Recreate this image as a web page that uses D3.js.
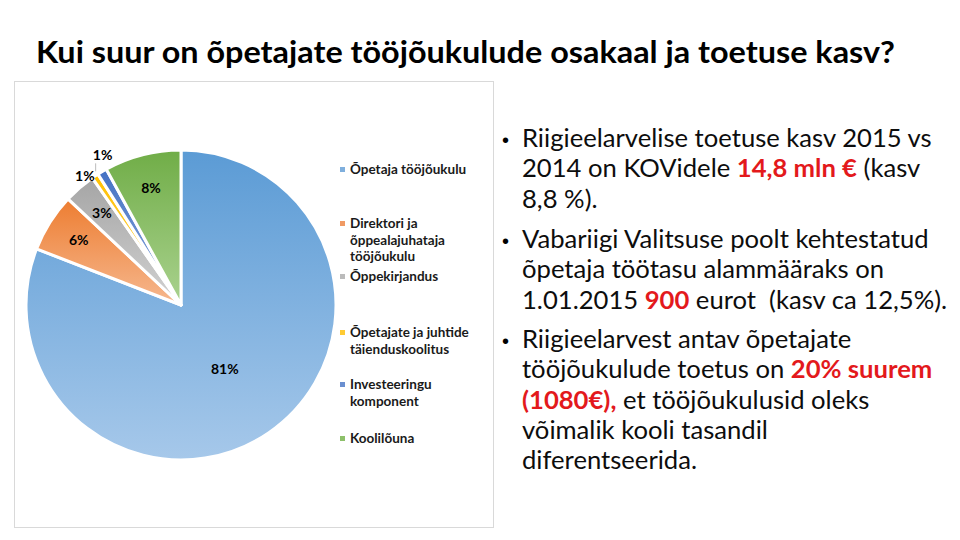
<!DOCTYPE html>
<html>
<head>
<meta charset="utf-8">
<script src="https://cdn.jsdelivr.net/npm/d3@7"></script>
<style>
  body { margin: 0; background: #fff; }
  svg { display: block; }
  text { white-space: pre; }
</style>
</head>
<body>
<div id="chart"></div>
<script>
// pie data (share of budget, %)
var categories = ["Õpetaja tööjõukulu", "Direktori ja õppealajuhataja tööjõukulu", "Õppekirjandus",
    "Õpetajate ja juhtide täienduskoolitus", "Investeeringu komponent", "Koolilõuna"];
var shares = [80.9, 6.1, 3.3, 0.7, 1.0, 8.0];
// legend text, wrapped like the original
var legendLines = [
    ["Õpetaja tööjõukulu"],
    ["Direktori ja", "õppealajuhataja", "tööjõukulu"],
    ["Õppekirjandus"],
    ["Õpetajate ja juhtide", "täienduskoolitus"],
    ["Investeeringu", "komponent"],
    ["Koolilõuna"]
];
var titleText = "Kui suur on õpetajate tööjõukulude osakaal ja toetuse kasv?";
// bullet text: each line is a list of [text, highlighted]
var bullets = [
    [
        [["Riigieelarvelise toetuse kasv 2015 vs", false]],
        [["2014 on KOVidele ", false], ["14,8 mln €", true], [" (kasv", false]],
        [["8,8 %).", false]]
    ],
    [
        [["Vabariigi Valitsuse poolt kehtestatud", false]],
        [["õpetaja töötasu alammääraks on", false]],
        [["1.01.2015 ", false], ["900", true], [" eurot  (kasv ca 12,5%).", false]]
    ],
    [
        [["Riigieelarvest antav õpetajate", false]],
        [["tööjõukulude toetus on ", false], ["20% suurem", true]],
        [["(1080€),", true], [" et tööjõukulusid oleks", false]],
        [["võimalik kooli tasandil", false]],
        [["diferentseerida.", false]]
    ]
];

var colorTop = ["#5B9BD5", "#ED7D31", "#A5A5A5", "#FFC000", "#4472C4", "#70AD47"];
var colorBottom = ["#A6C8EA", "#F6B88F", "#D2D2D2", "#FFD966", "#8FAADC", "#AAD28F"];
var colorKey = ["#7FAFDD", "#F09A64", "#BBBBBB", "#FFCB33", "#6A8FD0", "#8DC06A"];

var width = 960, height = 540;
var svg = d3.select("#chart").append("svg")
    .attr("width", width)
    .attr("height", height);

var font = "Lato, 'Open Sans', sans-serif";

// title
svg.append("text")
    .attr("x", 36)
    .attr("y", 63)
    .attr("font-family", font)
    .attr("font-weight", "bold")
    .attr("font-size", 30)
    .attr("fill", "#000")
    .attr("textLength", 859)
    .attr("lengthAdjust", "spacingAndGlyphs")
    .text(titleText);

// chart frame
svg.append("rect")
    .attr("x", 14.5).attr("y", 81.5)
    .attr("width", 479).attr("height", 446)
    .attr("fill", "#fff")
    .attr("stroke", "#D9D9D9");

// gradients for slices
var defs = svg.append("defs");
shares.forEach(function (d, i) {
    var g = defs.append("linearGradient")
        .attr("id", "grad" + i)
        .attr("x1", 0).attr("y1", 0).attr("x2", 0).attr("y2", 1);
    g.append("stop").attr("offset", "0%").attr("stop-color", colorTop[i]);
    g.append("stop").attr("offset", "100%").attr("stop-color", colorBottom[i]);
});

var radius = 155;
var cx = 181, cy = 305;

var pie = d3.pie().sort(null).value(function (d) { return d; });
var arcs = pie(shares);
var arc = d3.arc().innerRadius(0).outerRadius(radius);

var pieG = svg.append("g").attr("transform", "translate(" + cx + "," + cy + ")");

pieG.selectAll("path.slice")
    .data(arcs)
    .enter().append("path")
    .attr("class", "slice")
    .attr("d", arc)
    .attr("fill", function (d, i) { return "url(#grad" + i + ")"; })
    .attr("stroke", "#fff")
    .attr("stroke-width", 3)
    .attr("stroke-linejoin", "round");

function polar(angle, r) {
    return [Math.sin(angle) * r, -Math.cos(angle) * r];
}

// label placement: inside for big slices, outside (spread apart) for tiny ones
arcs.forEach(function (d) {
    d.labelAngle = (d.startAngle + d.endAngle) / 2;
    if (d.value > 50) d.labelR = radius * 0.5;
    else if (d.value >= 2) d.labelR = radius * 0.78;
    else d.labelR = null;
});
var small = arcs.filter(function (d) { return d.labelR === null; });
var meanAngle = d3.mean(small, function (d) { return d.labelAngle; });
var spread = 9 * Math.PI / 180;
small.forEach(function (d, k) {
    d.labelAngle = meanAngle + (k - (small.length - 1) / 2) * spread;
    d.labelR = radius * (1.04 + 0.05 * k);
});

pieG.selectAll("text.label")
    .data(arcs)
    .enter().append("text")
    .attr("class", "label")
    .attr("x", function (d) { return polar(d.labelAngle, d.labelR)[0]; })
    .attr("y", function (d) { return polar(d.labelAngle, d.labelR)[1]; })
    .attr("dy", "0.35em")
    .attr("text-anchor", "middle")
    .attr("font-family", font)
    .attr("font-weight", "bold")
    .attr("font-size", 14)
    .attr("fill", "#000")
    .text(function (d) { return Math.round(d.value) + "%"; });

// leader line from the outermost label back to the pie
pieG.selectAll("line.leader")
    .data(small.slice(1))
    .enter().append("line")
    .attr("class", "leader")
    .attr("x1", function (d) { return polar(d.labelAngle, d.labelR)[0] - 7; })
    .attr("y1", function (d) { return polar(d.labelAngle, d.labelR)[1] + 8; })
    .attr("x2", function (d) { return polar(d.labelAngle, d.labelR)[0] - 7; })
    .attr("y2", function (d) { return polar(d.labelAngle, d.labelR)[1] + 16; })
    .attr("stroke", "#A6A6A6")
    .attr("stroke-width", 0.75);

// legend
var legendY = [174, 228, 281, 337, 389, 443];
var legend = svg.append("g");
var legendTexts = [];
legendLines.forEach(function (lines, i) {
    legend.append("rect")
        .attr("x", 340).attr("y", legendY[i] - 7)
        .attr("width", 5).attr("height", 5)
        .attr("fill", colorKey[i]);
    var t = legend.append("text")
        .attr("class", "legend-text")
        .attr("x", 350)
        .attr("y", legendY[i])
        .attr("font-family", font)
        .attr("font-weight", "bold")
        .attr("font-size", 13.5)
        .attr("fill", "#1a1a1a");
    lines.forEach(function (ln, j) {
        t.append("tspan")
            .attr("x", 350)
            .attr("dy", j === 0 ? 0 : 16.5)
            .text(ln);
    });
    legendTexts.push(t);
});
// widen letter spacing so the first legend entry spans the original's width
var lw = legendTexts[0].node().getComputedTextLength();
var ls = Math.max(0, (113 - lw) / legendLines[0][0].length);
legend.selectAll("text.legend-text").attr("letter-spacing", ls);

// bullet text on the right
var baseSize = 24;
var textG = svg.append("g");
var firstLines = [147, 248, 348];
var lineStep = 30.3;
var lineNodes = [];
bullets.forEach(function (para, p) {
    textG.append("text")
        .attr("x", 502)
        .attr("y", firstLines[p])
        .attr("font-family", "'Liberation Sans', Arial, sans-serif")
        .attr("font-size", 20)
        .attr("fill", "#000")
        .text("•");
    para.forEach(function (line, l) {
        var t = textG.append("text")
            .attr("class", "body")
            .attr("x", 522)
            .attr("y", firstLines[p] + l * lineStep)
            .attr("font-family", font)
            .attr("font-size", baseSize)
            .attr("fill", "#0d0d0d");
        line.forEach(function (seg) {
            t.append("tspan")
                .attr("fill", seg[1] ? "#E3191C" : null)
                .attr("font-weight", seg[1] ? "bold" : null)
                .text(seg[0]);
        });
        lineNodes.push(t);
    });
});
// scale the body font so the first line spans the same width as the original
var w0 = lineNodes[0].node().getComputedTextLength();
var fitted = baseSize * 410 / w0;
textG.selectAll("text.body").attr("font-size", fitted);
</script>
</body>
</html>
